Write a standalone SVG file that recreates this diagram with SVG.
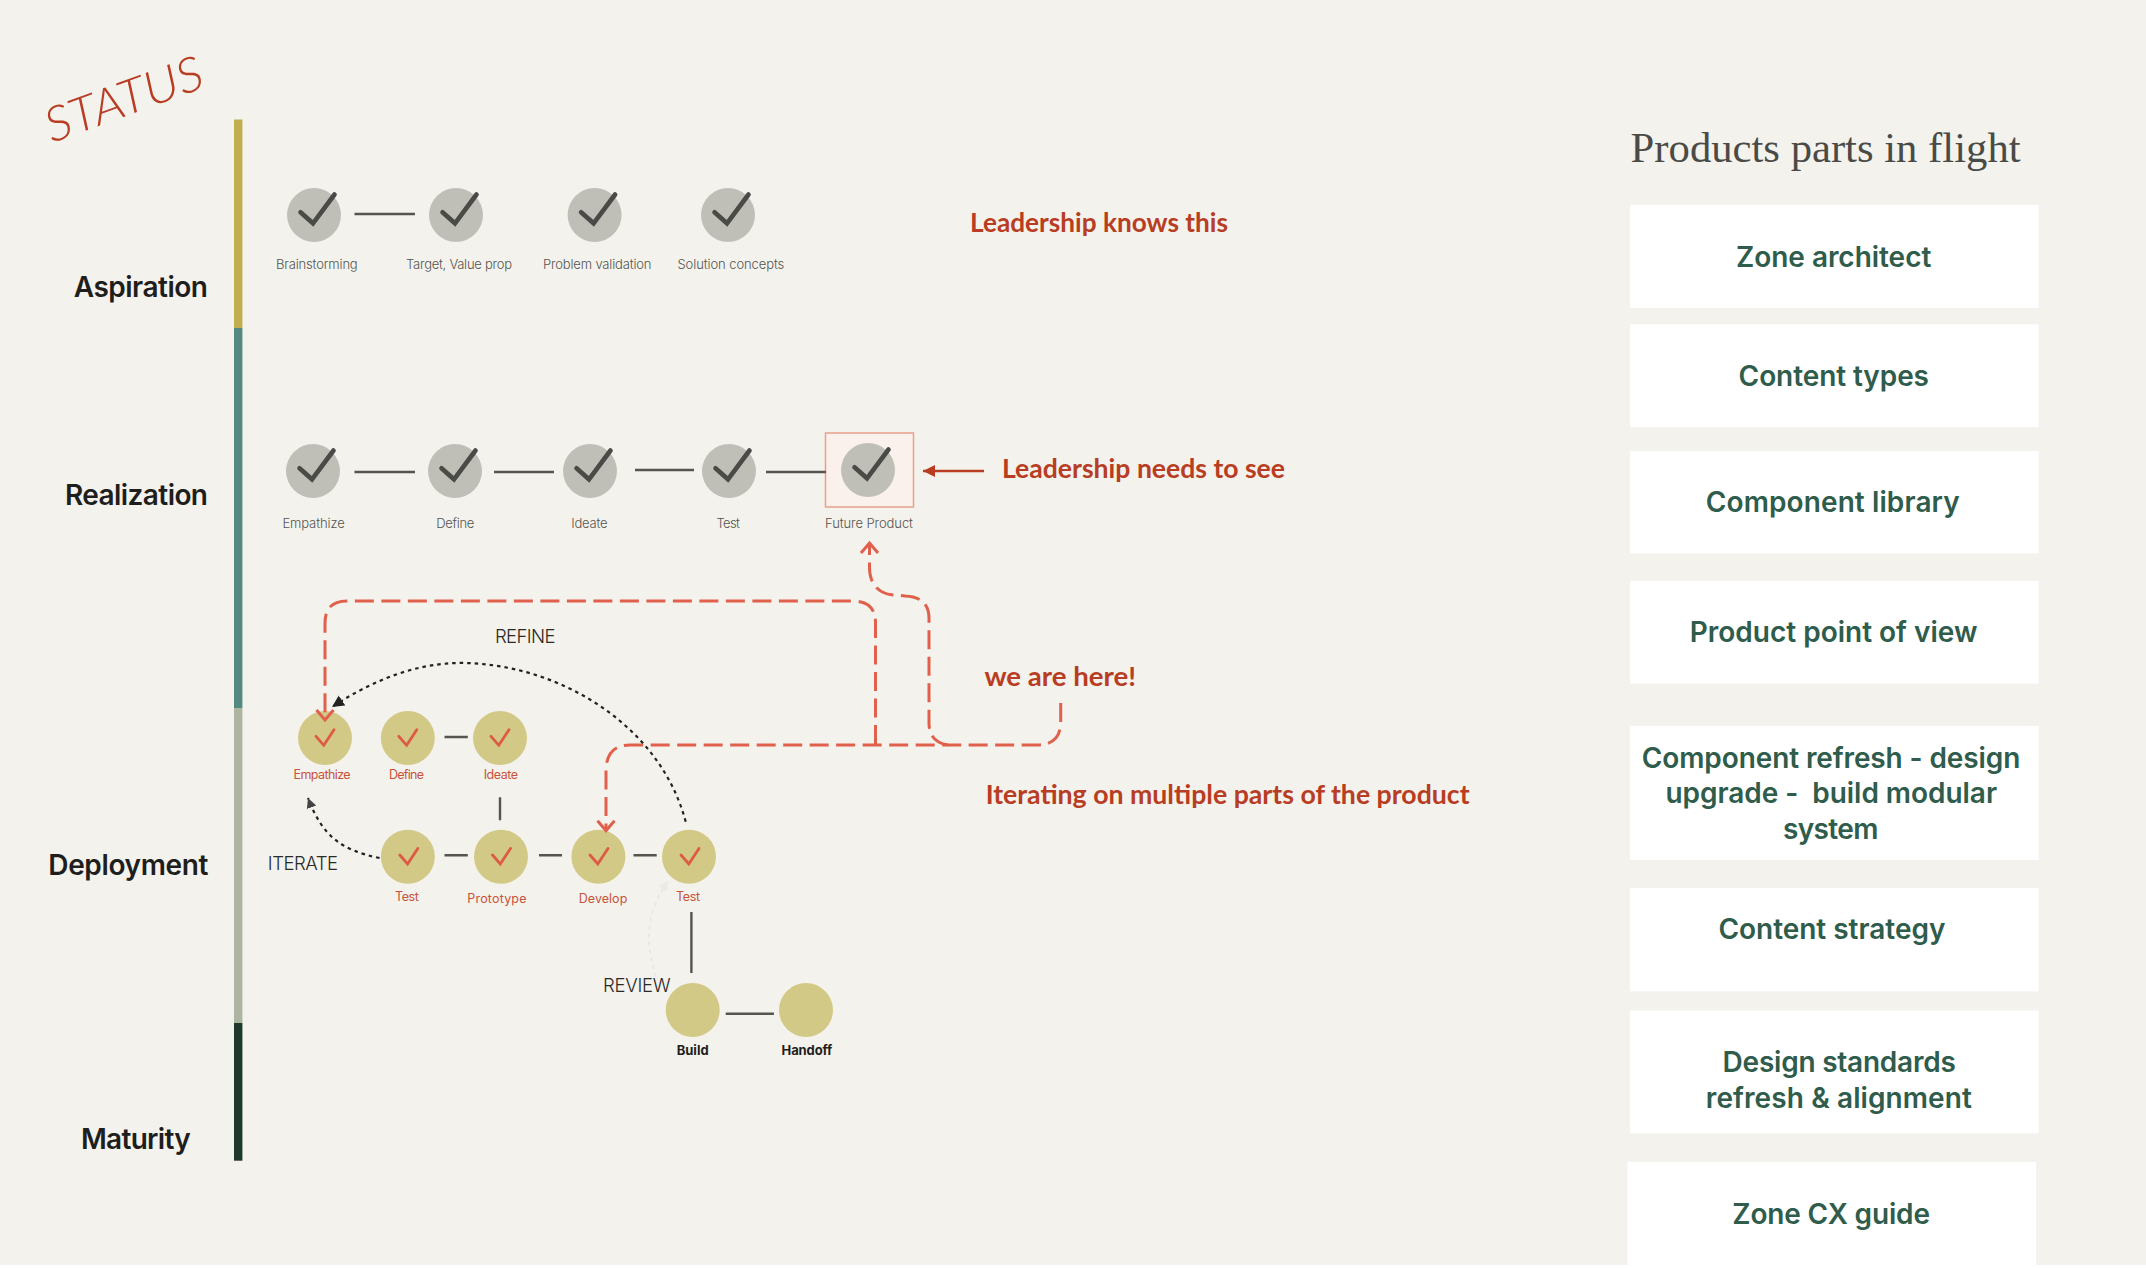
<svg xmlns="http://www.w3.org/2000/svg" width="2146" height="1268" viewBox="0 0 2146 1268">
<style>
.lvl{font:600 28px Inter,"Liberation Sans",sans-serif;fill:#1e1e1c}
.sm{font:300 13px Inter,"Liberation Sans",sans-serif;fill:#55554f}
.rd{font:400 12.5px Inter,"Liberation Sans",sans-serif;fill:#c8523a}
.bd{font:700 13px Inter,"Liberation Sans",sans-serif;fill:#1e1e1c}
.cap{font:300 18.5px Inter,"Liberation Sans",sans-serif;fill:#2a2a28}
.box{fill:#fff}
.bt{font:600 28px Inter,"Liberation Sans",sans-serif;fill:#2f5c4b}
.hand{font:700 27px Lato,"Liberation Sans",sans-serif;fill:#b83d22}
.gc{fill:#c0bfb7}.yc{fill:#d2c987}
.gt{fill:none;stroke:#4a4a46;stroke-width:4.6;stroke-linecap:round;stroke-linejoin:miter}
.yt{fill:none;stroke:#dd5a45;stroke-width:2.8;stroke-linecap:round}
.ln{fill:none;stroke:#55554f;stroke-width:2.4}
.dash{fill:none;stroke:#e0604c;stroke-width:3;stroke-dasharray:19 7.5}
.dot{fill:none;stroke:#222;stroke-width:2.2;stroke-dasharray:3.5 4}
</style>
<defs>
<path id="gck" class="gt" d="M-13.500-2.800L-1 8.300L20.500-20.500"/>
<path id="yck" class="yt" d="M-9-1.700L-1.200 7.300L9-8.300"/>
<marker id="open" markerUnits="userSpaceOnUse" markerWidth="16" markerHeight="22" refX="12" refY="11" orient="auto" viewBox="0 0 16 22"><path d="M2 2.500L12 11L2 19.500" fill="none" stroke="#e0604c" stroke-width="3"/></marker>
<marker id="fill" markerUnits="userSpaceOnUse" markerWidth="14" markerHeight="14" refX="12" refY="7" orient="auto" viewBox="0 0 14 14"><path d="M0 1L12 7L0 13Z" fill="#222"/></marker>
<marker id="fill2" markerUnits="userSpaceOnUse" markerWidth="12" markerHeight="12" refX="10" refY="6" orient="auto" viewBox="0 0 12 12"><path d="M0 1L10 6L0 11Z" fill="#444"/></marker>
<marker id="faint" markerUnits="userSpaceOnUse" markerWidth="12" markerHeight="12" refX="10" refY="6" orient="auto" viewBox="0 0 12 12"><path d="M0 1L10 6L0 11Z" fill="#ebebe6"/></marker>
<marker id="solid" markerUnits="userSpaceOnUse" markerWidth="14" markerHeight="14" refX="12" refY="7" orient="auto" viewBox="0 0 14 14"><path d="M0 1L12 7L0 13Z" fill="#b83d22"/></marker>
</defs>
<rect width="2146" height="1268" fill="#fff"/>
<rect width="2146" height="1265" fill="#f4f2ed"/>

<g id="status-title"><text style="font:italic 300 48px Lato,'Liberation Sans',sans-serif;fill:#b83d22" transform="translate(52 143) rotate(-20)" textLength="165" lengthAdjust="spacingAndGlyphs">STATUS</text></g>

<g id="status-bar">
<rect x="234" y="119.500" width="8.400" height="208.500" fill="#bfae50"/>
<rect x="234" y="328" width="8.400" height="380" fill="#53897f"/>
<rect x="234" y="708" width="8.400" height="315" fill="#adb4a2"/>
<rect x="234" y="1023" width="8.400" height="137.700" fill="#20372e"/>
</g>
<g id="level-aspiration"><text class="lvl" x="73.700" y="297" textLength="134.300">Aspiration</text></g>
<g id="level-realization"><text class="lvl" x="65" y="505" textLength="143">Realization</text></g>
<g id="level-deployment"><text class="lvl" x="48.300" y="875" textLength="160">Deployment</text></g>
<g id="level-maturity"><text class="lvl" x="81" y="1149" textLength="109.700">Maturity</text></g>

<g id="future-highlight"><rect x="825.500" y="433" width="88" height="74" fill="#fbf1ec" stroke="#e8a08c" stroke-width="1.500"/></g>

<g id="a-brainstorming"><circle class="gc" cx="314" cy="215" r="27"/><use href="#gck" x="314" y="215"/><text class="sm" x="275.900" y="268.600" textLength="81.800">Brainstorming</text></g>
<g id="a-target"><circle class="gc" cx="456" cy="215" r="27"/><use href="#gck" x="456" y="215"/><text class="sm" x="406" y="268.600" textLength="106">Target, Value prop</text></g>
<g id="a-problem"><circle class="gc" cx="594.600" cy="215" r="27"/><use href="#gck" x="594.600" y="215"/><text class="sm" x="543" y="268.600" textLength="108.500">Problem validation</text></g>
<g id="a-solution"><circle class="gc" cx="728" cy="215" r="27"/><use href="#gck" x="728" y="215"/><text class="sm" x="677.500" y="268.600" textLength="106.800">Solution concepts</text></g>

<g id="r-empathize"><circle class="gc" cx="313" cy="471" r="27"/><use href="#gck" x="313" y="471"/><text class="sm" x="282.400" y="527.600" textLength="62.300">Empathize</text></g>
<g id="r-define"><circle class="gc" cx="455" cy="471" r="27"/><use href="#gck" x="455" y="471"/><text class="sm" x="436.300" y="527.600" textLength="38">Define</text></g>
<g id="r-ideate"><circle class="gc" cx="590" cy="471" r="27"/><use href="#gck" x="590" y="471"/><text class="sm" x="571.300" y="527.600" textLength="36.300">Ideate</text></g>
<g id="r-test"><circle class="gc" cx="729" cy="471" r="27"/><use href="#gck" x="729" y="471"/><text class="sm" x="716.500" y="527.600" textLength="23.500">Test</text></g>
<g id="r-future"><circle class="gc" cx="868" cy="470" r="27"/><use href="#gck" x="868" y="470"/><text class="sm" x="825" y="527.600" textLength="88">Future Product</text></g>

<g id="d-empathize"><circle class="yc" cx="325" cy="738" r="27"/><use href="#yck" x="325" y="738"/><text class="rd" x="293.500" y="779.300" textLength="57.100">Empathize</text></g>
<g id="d-define"><circle class="yc" cx="407.800" cy="738" r="27"/><use href="#yck" x="407.800" y="738"/><text class="rd" x="389" y="779.300" textLength="35">Define</text></g>
<g id="d-ideate"><circle class="yc" cx="500" cy="738" r="27"/><use href="#yck" x="500" y="738"/><text class="rd" x="483.700" y="779.300" textLength="34.300">Ideate</text></g>
<g id="d-test"><circle class="yc" cx="407.800" cy="856.700" r="27"/><use href="#yck" x="408.800" y="856.700"/><text class="rd" x="395" y="901" textLength="23.800">Test</text></g>
<g id="d-prototype"><circle class="yc" cx="501" cy="856.700" r="27"/><use href="#yck" x="501.500" y="856.700"/><text class="rd" x="467.300" y="902.700" textLength="59.200">Prototype</text></g>
<g id="d-develop"><circle class="yc" cx="598.400" cy="856.700" r="27"/><use href="#yck" x="599" y="856.700"/><text class="rd" x="578.800" y="902.700" textLength="48.500">Develop</text></g>
<g id="d-test2"><circle class="yc" cx="689" cy="856.700" r="27"/><use href="#yck" x="690" y="856.700"/><text class="rd" x="676" y="901" textLength="24">Test</text></g>
<g id="d-build"><circle class="yc" cx="692.700" cy="1010" r="27"/><text class="bd" x="676.700" y="1054.700" textLength="31.900">Build</text></g>
<g id="d-handoff"><circle class="yc" cx="806" cy="1010" r="27"/><text class="bd" x="781.600" y="1054.700" textLength="50.600">Handoff</text></g>

<g id="connectors">
<path class="ln" d="M354.500 214H415"/>
<path class="ln" d="M354.500 472H415M494 472H554M635 470H694M766 472H826"/>
<path class="ln" d="M444.500 737H467.800M500 797.300V820.300M444.500 855.300H467.800M539 855.300H562M633.500 855.300H656.700M691.400 912V973M725.700 1013.700H773.900"/>
<path d="M984 471H923" fill="none" stroke="#b83d22" stroke-width="2.600" marker-end="url(#solid)"/>
<path class="dash" d="M875.500 744V623Q875.500 601 853 601H347Q325 601 325 623V720" marker-end="url(#open)"/>
<path class="dash" d="M1060.700 703V722Q1060.700 745 1037 745H630Q606 745 606 771V830.700" marker-end="url(#open)"/>
<path class="dash" d="M948 745Q929 742 929 723V618Q929 597 905 596L890 594.600Q869.500 590 869.500 567V543" marker-end="url(#open)"/>
<path class="dot" d="M685.700 821.700C660 725 560 665 465 663C415 662 370 682 332 707" marker-end="url(#fill)"/>
<path class="dot" d="M379.600 858C340 850 322 835 308 798" marker-end="url(#fill2)"/>
<path fill="none" stroke="#e8e8e3" stroke-width="2" stroke-dasharray="4 4" d="M656 976.700C642 935 650 905 668.600 880.700" marker-end="url(#faint)"/>
</g>

<g id="captions">
<text class="cap" x="495" y="642.700" textLength="60.500">REFINE</text>
<text class="cap" x="267.800" y="870" textLength="70.200">ITERATE</text>
<text class="cap" x="603" y="992" textLength="67.600">REVIEW</text>
</g>
<g id="notes">
<text class="hand" x="970" y="231.500" textLength="258" lengthAdjust="spacingAndGlyphs">Leadership knows this</text>
<text class="hand" x="1002" y="478" textLength="283" lengthAdjust="spacingAndGlyphs">Leadership needs to see</text>
<text class="hand" x="984.400" y="685.500" textLength="151.600" lengthAdjust="spacingAndGlyphs">we are here!</text>
<text class="hand" x="985.700" y="804" textLength="483.900" lengthAdjust="spacingAndGlyphs">Iterating on multiple parts of the product</text>
</g>

<g id="parts-title"><text x="1630.600" y="162" font-family="Liberation Serif,serif" font-size="43" fill="#4a4a46" textLength="390" lengthAdjust="spacingAndGlyphs">Products parts in flight</text></g>
<g id="part-zone-architect"><rect class="box" x="1630" y="205" width="408.700" height="102.800"/><text class="bt" x="1736" y="266.500" textLength="195.300">Zone architect</text></g>
<g id="part-content-types"><rect class="box" x="1630" y="324.300" width="408.700" height="102.900"/><text class="bt" x="1738.600" y="385.500" textLength="190.400">Content types</text></g>
<g id="part-component-library"><rect class="box" x="1630" y="451" width="408.700" height="102.500"/><text class="bt" x="1705.800" y="512" textLength="253.900">Component library</text></g>
<g id="part-pov"><rect class="box" x="1630" y="581" width="408.700" height="102.600"/><text class="bt" x="1689.800" y="642" textLength="287.600">Product point of view</text></g>
<g id="part-refresh"><rect class="box" x="1630" y="726" width="408.700" height="133.900"/><text class="bt" x="1641.800" y="767.600" textLength="378.500">Component refresh - design</text><text class="bt" x="1665.500" y="803.300" textLength="331.500" xml:space="preserve">upgrade -  build modular</text><text class="bt" x="1783" y="839" textLength="95.500">system</text></g>
<g id="part-content-strategy"><rect class="box" x="1630" y="888" width="408.700" height="103.400"/><text class="bt" x="1718.400" y="939" textLength="227">Content strategy</text></g>
<g id="part-design-standards"><rect class="box" x="1630" y="1010.500" width="408.700" height="122.900"/><text class="bt" x="1722.600" y="1072" textLength="233.200">Design standards</text><text class="bt" x="1705.800" y="1107.500" textLength="266.100">refresh &amp; alignment</text></g>
<g id="part-zone-cx"><rect class="box" x="1627.500" y="1162" width="408.500" height="103.500"/><text class="bt" x="1732.300" y="1223.500" textLength="197.700">Zone CX guide</text></g>
</svg>
